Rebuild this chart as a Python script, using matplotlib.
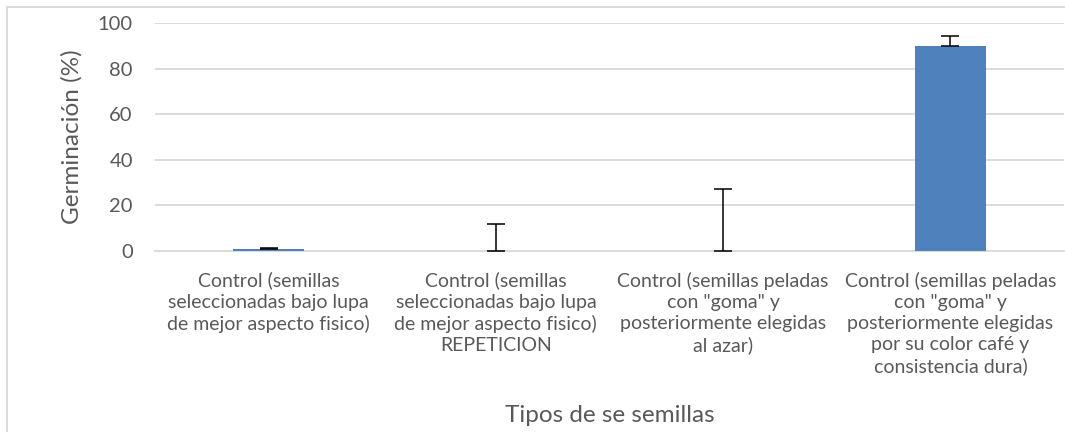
import matplotlib
matplotlib.use("Agg")
import matplotlib.pyplot as plt
from matplotlib.patches import Rectangle

categories = [
    "Control (semillas\nseleccionadas bajo lupa\nde mejor aspecto fisico)",
    "Control (semillas\nseleccionadas bajo lupa\nde mejor aspecto fisico)\nREPETICION",
    "Control (semillas peladas\ncon \"goma\" y\nposteriormente elegidas\nal azar)",
    "Control (semillas peladas\ncon \"goma\" y\nposteriormente elegidas\npor su color café y\nconsistencia dura)",
]
values = [0.8, 0.0, 0.0, 90.0]
errors = [0.3, 11.7, 27.0, 4.5]
yticks = [0, 20, 40, 60, 80, 100]

plt.rcParams['font.family'] = ['Lato', 'DejaVu Sans']

W, H = 1065, 432
fig = plt.figure(figsize=(W / 100, H / 100), dpi=100)
ax = fig.add_axes([155 / W, 1 - 250.7 / H, (1064 - 155) / W, (250.7 - 23) / H])

x = list(range(len(categories)))
ax.bar(x, values, width=0.31, color="#4f81bd", zorder=3)
ax.errorbar(x, values, yerr=[[0] * len(errors), errors], fmt="none",
            ecolor="black", elinewidth=1.1, capsize=6.5, capthick=1.1, zorder=4)

ax.set_xlim(-0.5, len(categories) - 0.5)
ax.set_ylim(0, 100)
ax.set_yticks(yticks)
ax.set_xticks(x)
ax.set_xticklabels(categories, fontsize=14, color="#595959", linespacing=1.3)
ax.tick_params(axis="y", labelsize=14.5, colors="#595959", length=0, pad=16)
ax.tick_params(axis="x", length=0, pad=15)
ax.grid(axis="y", color="#d9d9d9", linewidth=1.3, zorder=0)
for s in ["top", "right", "left"]:
    ax.spines[s].set_visible(False)
ax.spines["bottom"].set_color("#d9d9d9")
ax.spines["bottom"].set_linewidth(1.3)

fig.text(72 / W, 1 - 137 / H, "Germinación (%)", fontsize=17.5, color="#595959",
         rotation=90, ha="center", va="center")
fig.text((155 + 1064) / 2 / W, 1 - 416 / H, "Tipos de se semillas",
         fontsize=17.5, color="#595959", ha="center", va="center")

fig.patches.append(Rectangle((7 / W, -0.1), 1.2, (1 - 7 / H) + 0.1,
                             transform=fig.transFigure, fill=False,
                             edgecolor="#d9d9d9", linewidth=1.3))

fig.savefig("out.png", dpi=100)
